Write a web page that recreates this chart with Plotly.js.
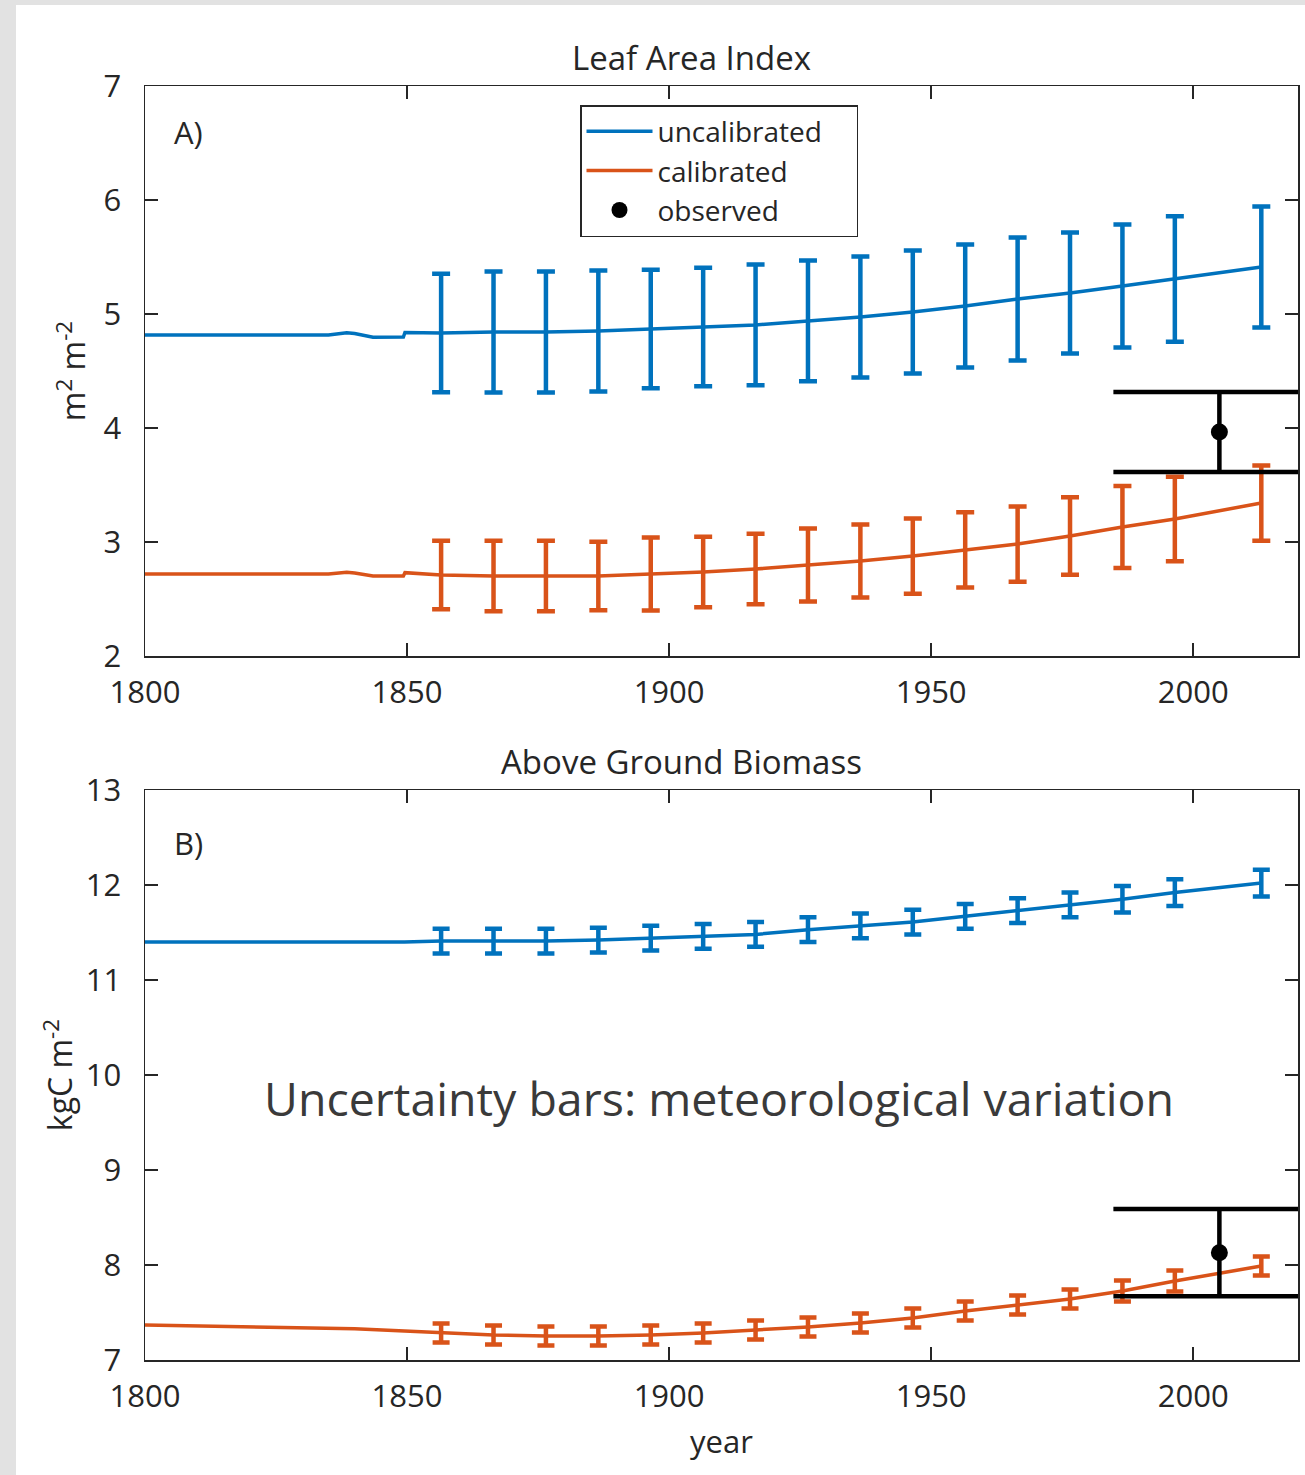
<!DOCTYPE html>
<html>
<head>
<meta charset="utf-8">
<script src="https://cdn.plot.ly/plotly-3.0.1.min.js"></script>
<style>
  html, body { margin: 0; padding: 0; background: #ffffff; }
  #chart { width: 1305px; height: 1475px; }
</style>
</head>
<body>
<div id="chart"></div>
<script>
// ---------- data ----------
const barYears = [1856.5, 1866.5, 1876.5, 1886.5, 1896.5, 1906.5, 1916.5, 1926.5, 1936.5, 1946.5, 1956.5, 1966.5, 1976.5, 1986.5, 1996.5, 2013];

// Leaf Area Index (panel A)
const laiUncalMean = [4.833, 4.842, 4.842, 4.851, 4.868, 4.886, 4.904, 4.939, 4.974, 5.018, 5.070, 5.132, 5.184, 5.246, 5.307, 5.412];
const laiUncalErr  = [0.52, 0.53, 0.53, 0.53, 0.52, 0.52, 0.53, 0.53, 0.53, 0.54, 0.54, 0.54, 0.53, 0.54, 0.55, 0.53];
const laiCalMean   = [2.711, 2.702, 2.702, 2.702, 2.719, 2.737, 2.763, 2.798, 2.833, 2.877, 2.930, 2.982, 3.053, 3.132, 3.202, 3.342];
const laiCalErr    = [0.30, 0.31, 0.31, 0.30, 0.32, 0.31, 0.31, 0.32, 0.32, 0.33, 0.33, 0.33, 0.34, 0.36, 0.37, 0.33];
const laiPreYears  = [1800, 1835, 1838.5, 1840, 1843.5, 1848.5, 1849.3, 1849.6];
const laiUncalPre  = [4.816, 4.816, 4.836, 4.829, 4.796, 4.794, 4.798, 4.838];
const laiCalPre    = [2.719, 2.719, 2.734, 2.728, 2.702, 2.702, 2.702, 2.731];
const laiObsYear = [2005];
const laiObs     = [3.965];
const laiObsErr  = [0.35];

// Above Ground Biomass (panel B)
const agbUncalMean = [11.41, 11.41, 11.41, 11.42, 11.44, 11.46, 11.48, 11.53, 11.57, 11.61, 11.67, 11.73, 11.79, 11.85, 11.92, 12.02];
const agbUncalErr  = [0.13, 0.13, 0.13, 0.13, 0.13, 0.13, 0.13, 0.13, 0.13, 0.13, 0.13, 0.13, 0.13, 0.14, 0.14, 0.14];
const agbCalMean   = [7.284, 7.263, 7.253, 7.253, 7.263, 7.284, 7.316, 7.347, 7.389, 7.442, 7.516, 7.579, 7.642, 7.726, 7.832, 7.989];
const agbCalErr    = [0.10, 0.10, 0.10, 0.10, 0.10, 0.10, 0.10, 0.10, 0.10, 0.10, 0.10, 0.10, 0.10, 0.11, 0.11, 0.10];
const agbPreYears  = [1800, 1820, 1840, 1849.5];
const agbUncalPre  = [11.40, 11.40, 11.40, 11.40];
const agbCalPre    = [7.368, 7.345, 7.330, 7.305];
const agbObsYear = [2005];
const agbObs     = [8.13];
const agbObsErr  = [0.46];

const xTicks = [1800, 1850, 1900, 1950, 2000];
const seriesNames = ['uncalibrated', 'calibrated', 'observed'];

// ---------- style ----------
const BLUE = '#0072BD', ORANGE = '#D95319', INK = '#262626';
const W = 1305, H = 1475;
const FONT = 'Open Sans, sans-serif';
const PAD = '\u00a0\u00a0\u00a0\u00a0';

function line(x, y, color, xa, ya, name, show) {
  return { x, y, type: 'scatter', mode: 'lines', xaxis: xa, yaxis: ya,
    line: { color, width: 3.5 }, name, showlegend: !!show, hoverinfo: 'skip' };
}
function bars(x, y, err, color, xa, ya, w, th) {
  return { x, y, type: 'scatter', mode: 'markers', xaxis: xa, yaxis: ya,
    marker: { color, size: 1, opacity: 0 }, showlegend: false, hoverinfo: 'skip',
    error_y: { type: 'data', array: err, symmetric: true, color, thickness: th, width: w } };
}
function obs(x, y, err, xa, ya, show) {
  return { x, y, type: 'scatter', mode: 'markers', xaxis: xa, yaxis: ya,
    marker: { color: '#000000', size: 17 }, name: seriesNames[2], showlegend: !!show,
    hoverinfo: 'skip',
    error_y: { type: 'data', array: err, symmetric: true, color: '#000000', thickness: 4.5, width: 106 } };
}

const traces = [
  line(laiPreYears.concat(barYears), laiUncalPre.concat(laiUncalMean), BLUE, 'x', 'y', seriesNames[0] + PAD, true),
  line(laiPreYears.concat(barYears), laiCalPre.concat(laiCalMean), ORANGE, 'x', 'y', seriesNames[1], true),
  bars(barYears, laiUncalMean, laiUncalErr, BLUE, 'x', 'y', 9, 4.5),
  bars(barYears, laiCalMean, laiCalErr, ORANGE, 'x', 'y', 9, 4.5),
  obs(laiObsYear, laiObs, laiObsErr, 'x', 'y', true),

  line(agbPreYears.concat(barYears), agbUncalPre.concat(agbUncalMean), BLUE, 'x2', 'y2', seriesNames[0], false),
  line(agbPreYears.concat(barYears), agbCalPre.concat(agbCalMean), ORANGE, 'x2', 'y2', seriesNames[1], false),
  bars(barYears, agbUncalMean, agbUncalErr, BLUE, 'x2', 'y2', 8.5, 4.5),
  bars(barYears, agbCalMean, agbCalErr, ORANGE, 'x2', 'y2', 8.5, 4.5),
  obs(agbObsYear, agbObs, agbObsErr, 'x2', 'y2', false)
];

const px = v => v / W;
const py = v => 1 - v / H;

function xaxis(anchor) {
  return { domain: [px(145), px(1298)], anchor, range: [1800, 2020], tickvals: xTicks,
    ticks: 'inside', ticklen: 13, tickwidth: 1.5, tickcolor: INK,
    showline: true, linecolor: INK, linewidth: 1.5, mirror: 'ticks',
    showgrid: false, zeroline: false, fixedrange: true,
    tickfont: { family: FONT, size: 31, color: INK }, ticklabelstandoff: 8 };
}
function yaxis(anchor, top, bottom, range, title, standoff) {
  return { domain: [py(bottom), py(top)], anchor, range, dtick: 1,
    ticks: 'inside', ticklen: 13, tickwidth: 1.5, tickcolor: INK,
    showline: true, linecolor: INK, linewidth: 1.5, mirror: 'ticks',
    showgrid: false, zeroline: false, fixedrange: true,
    tickfont: { family: FONT, size: 31, color: INK }, ticklabelstandoff: 16,
    title: { text: title, font: { family: FONT, size: 32, color: INK }, standoff } };
}

const layout = {
  width: W, height: H,
  margin: { l: 0, r: 0, t: 0, b: 0 },
  paper_bgcolor: '#ffffff', plot_bgcolor: '#ffffff',
  showlegend: true,
  legend: { x: px(580), y: py(105), xanchor: 'left', yanchor: 'top',
    bgcolor: '#ffffff', bordercolor: INK, borderwidth: 1.5, itemwidth: 66,
    font: { family: FONT, size: 28, color: INK }, tracegroupgap: 0 },
  xaxis: xaxis('y'),
  yaxis: yaxis('x', 86, 656, [2, 7], 'm<sup>2</sup> m<sup>-2</sup>', 8),
  xaxis2: Object.assign(xaxis('y2'), {
    title: { text: 'year', font: { family: FONT, size: 31, color: INK }, standoff: 16 } }),
  yaxis2: yaxis('x2', 790, 1360, [7, 13], 'kgC m<sup>-2</sup>', 3),
  shapes: [
    { type: 'rect', xref: 'paper', yref: 'paper', x0: 0, x1: px(16), y0: 0, y1: 1,
      fillcolor: '#e2e2e2', line: { width: 0 }, layer: 'below' },
    { type: 'rect', xref: 'paper', yref: 'paper', x0: 0, x1: 1, y0: py(5), y1: 1,
      fillcolor: '#e2e2e2', line: { width: 0 }, layer: 'below' }
  ],
  annotations: [
    { text: 'Leaf Area Index', xref: 'paper', yref: 'paper', x: px(691), y: py(57),
      xanchor: 'center', yanchor: 'middle', showarrow: false,
      font: { family: FONT, size: 33, color: INK } },
    { text: 'Above Ground Biomass', xref: 'paper', yref: 'paper', x: px(682), y: py(761),
      xanchor: 'center', yanchor: 'middle', showarrow: false,
      font: { family: FONT, size: 33, color: INK } },
    { text: 'A)', xref: 'paper', yref: 'paper', x: px(172), y: py(132),
      xanchor: 'left', yanchor: 'middle', showarrow: false,
      font: { family: FONT, size: 31, color: INK } },
    { text: 'B)', xref: 'paper', yref: 'paper', x: px(172), y: py(843),
      xanchor: 'left', yanchor: 'middle', showarrow: false,
      font: { family: FONT, size: 31, color: INK } },
    { text: 'Uncertainty bars: meteorological variation', xref: 'paper', yref: 'paper',
      x: px(719), y: py(1098), xanchor: 'center', yanchor: 'middle', showarrow: false,
      font: { family: FONT, size: 46.5, color: '#3a3a3a' } }
  ]
};

Plotly.newPlot('chart', traces, layout, { staticPlot: true, displayModeBar: false });
</script>
</body>
</html>
